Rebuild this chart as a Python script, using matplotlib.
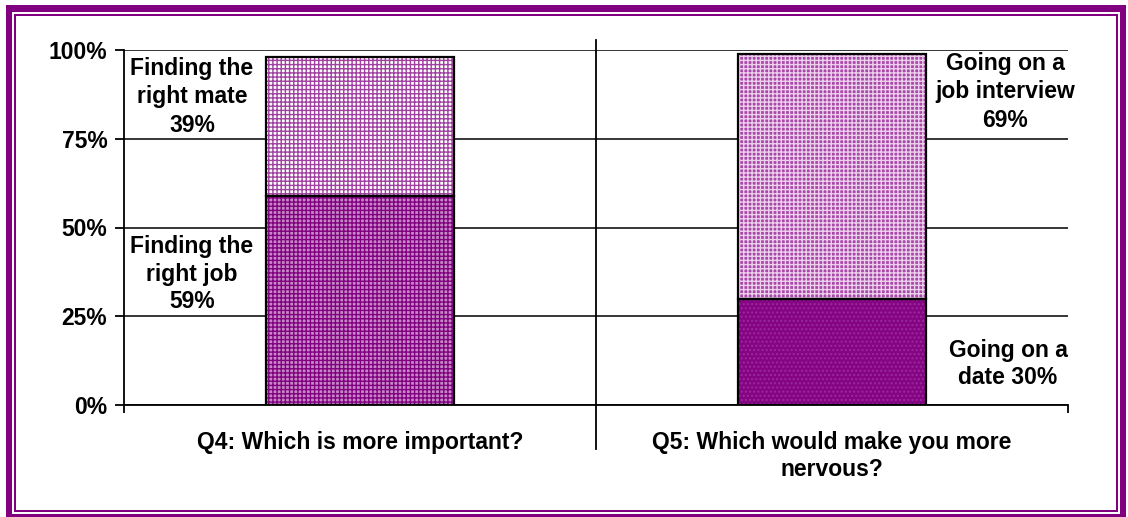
import matplotlib
matplotlib.use("Agg")
import matplotlib.pyplot as plt
import matplotlib.transforms as mtransforms
from matplotlib.patches import Rectangle

# --- data ---
QUESTIONS = ["Q4: Which is more important?", "Q5: Which would make you more\nnervous?"]
LOWER_VALUES = [59, 30]   # Finding the right job / Going on a date
UPPER_VALUES = [39, 69]   # Finding the right mate / Going on a job interview
LOWER_NAMES = ["Finding the\nright job", "Going on a\ndate"]
UPPER_NAMES = ["Finding the\nright mate", "Going on a\njob interview"]
Y_TICKS = [0, 25, 50, 75, 100]

# --- style ---
PURPLE = "#800080"
W, H = 1128, 517
FONT = "Liberation Sans"
FS = 16.5
plt.rcParams["font.family"] = [FONT, "DejaVu Sans"]
plt.rcParams["hatch.linewidth"] = 1.0

fig = plt.figure(figsize=(W / 100, H / 100), dpi=100, facecolor="white")


def px_rect(x0, y0, x1, y1, color):
    fig.patches.append(Rectangle((x0 / W, 1 - y1 / H), (x1 - x0) / W, (y1 - y0) / H,
                                 transform=fig.transFigure, facecolor=color,
                                 edgecolor="none", zorder=-10))


# purple double frame
px_rect(6, 5, 1126, 522, PURPLE)
px_rect(12, 12, 1120, 514, "white")
px_rect(14, 14, 1118, 512, PURPLE)
px_rect(16, 16, 1116, 510, "white")

ax = fig.add_axes([124 / W, 1 - 405 / H, (1068 - 124) / W, 355 / H])
ax.set_facecolor("none")

x = list(range(len(QUESTIONS)))
width = 0.40

# segment fills (face + hatch), hatch colour comes from edgecolor
lower_style = [dict(facecolor="#c888c8", edgecolor=PURPLE, hatch="++++"),
               dict(facecolor="#840484", edgecolor="#9a2a9a", hatch="....")]
upper_style = [dict(facecolor="white", edgecolor="#a040a0", hatch="++++"),
               dict(facecolor="#a848a8", edgecolor="#ecd0ec", hatch="++++")]

for i in x:
    ax.bar(i, LOWER_VALUES[i], width, linewidth=0, zorder=3, **lower_style[i])
    ax.bar(i, UPPER_VALUES[i], width, bottom=LOWER_VALUES[i], linewidth=0, zorder=3,
           **upper_style[i])
# black outlines
ax.bar(x, LOWER_VALUES, width, facecolor="none", edgecolor="black", linewidth=1.6, zorder=4)
ax.bar(x, UPPER_VALUES, width, bottom=LOWER_VALUES, facecolor="none", edgecolor="black",
       linewidth=1.6, zorder=4)

ax.set_xlim(-0.5, len(QUESTIONS) - 0.5)
ax.set_ylim(0, 100)
ax.set_yticks(Y_TICKS)
ax.set_yticklabels([f"{t}%" for t in Y_TICKS], fontsize=FS, fontweight="bold")
ax.yaxis.grid(True, color="black", linewidth=1.1)
ax.set_axisbelow(True)

ax.set_xticks(x)
ax.set_xticklabels(QUESTIONS, fontsize=FS, fontweight="bold", linespacing=1.2)
ax.tick_params(axis="x", which="major", length=0, pad=19)
ax.set_xticks([-0.5, len(QUESTIONS) - 0.5], minor=True)
ax.tick_params(axis="x", which="minor", length=6, width=1.3, direction="out")
ax.tick_params(axis="y", length=6.5, width=1.3, pad=5.5)

for s in ["top", "right"]:
    ax.spines[s].set_visible(False)
for s in ["left", "bottom"]:
    ax.spines[s].set_linewidth(1.3)

# category separator
trans = mtransforms.blended_transform_factory(ax.transData, ax.transAxes)
ax.plot([0.5, 0.5], [1.028, -0.124], color="black", linewidth=1.3, transform=trans,
        clip_on=False, zorder=5)

# segment labels
upper_pos = [(-0.356, 86.8), (1.367, 88.2)]
lower_pos = [(-0.356, 36.9), (1.373, 11.5)]
for i in x:
    ax.text(*upper_pos[i], f"{UPPER_NAMES[i]}\n{UPPER_VALUES[i]}%", ha="center", va="center",
            fontsize=FS, fontweight="bold", linespacing=1.3, zorder=6)
    lower_txt = f"{LOWER_NAMES[i]}\n{LOWER_VALUES[i]}%" if i == 0 else \
        f"{LOWER_NAMES[i]} {LOWER_VALUES[i]}%"
    ax.text(*lower_pos[i], lower_txt, ha="center", va="center",
            fontsize=FS, fontweight="bold", linespacing=1.25, zorder=6)

fig.savefig("out.png", dpi=100, facecolor="white")
